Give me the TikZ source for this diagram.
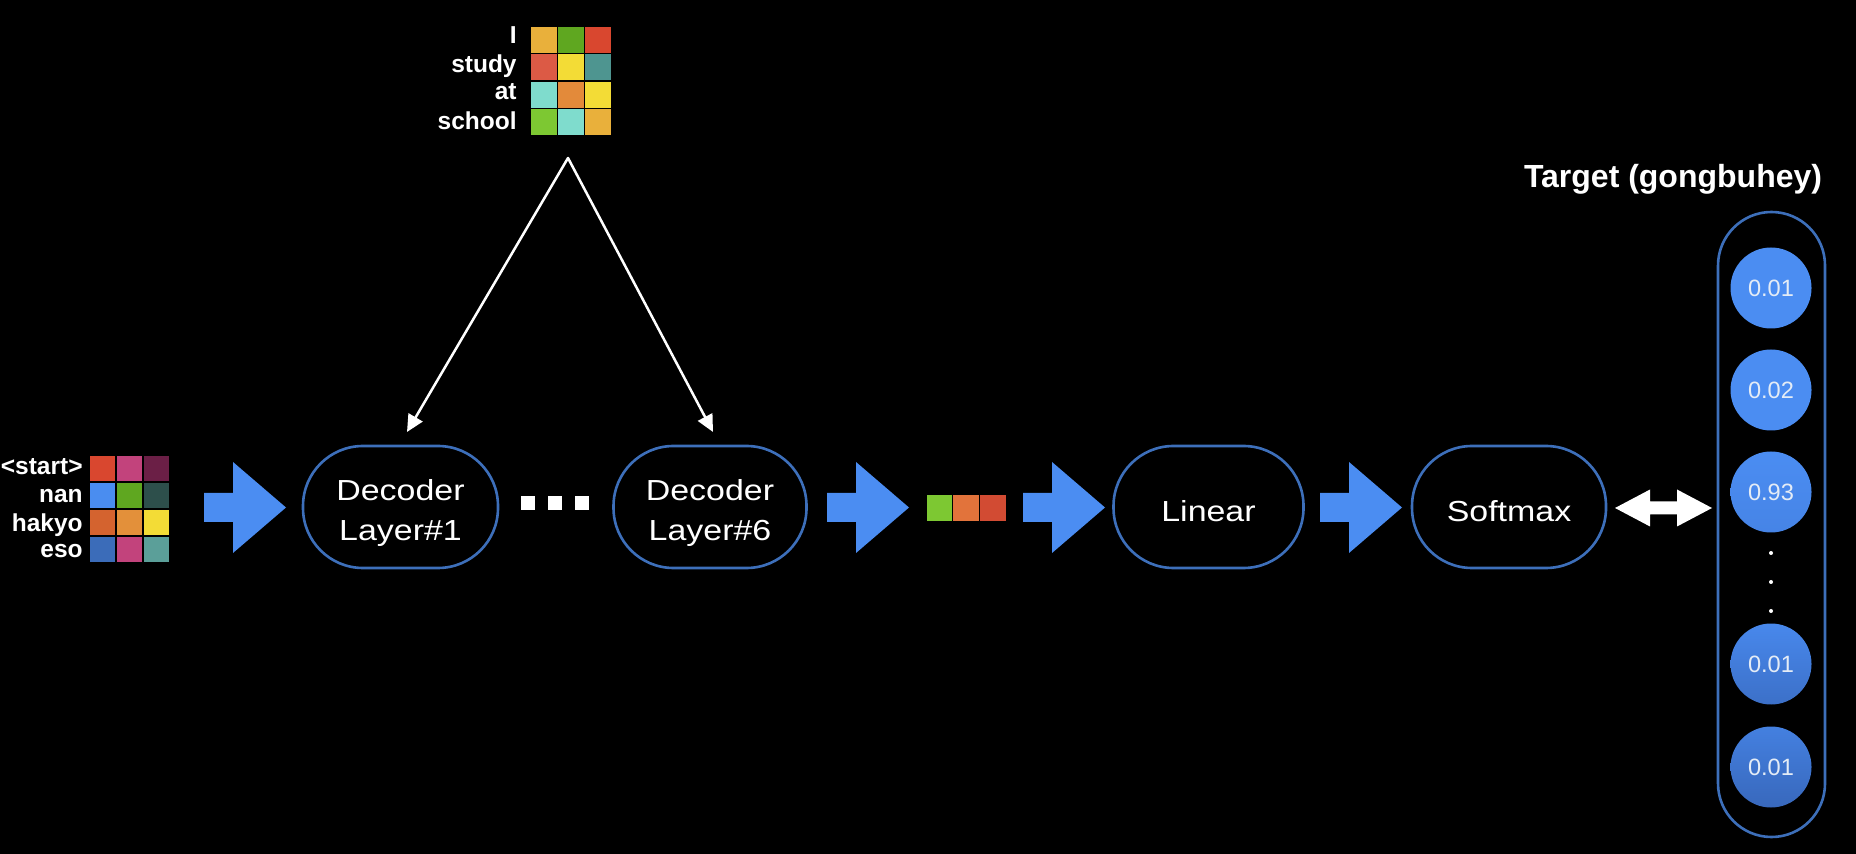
\documentclass[tikz,border=0pt]{standalone}
\usepackage{fontspec}
\setmainfont{Liberation Sans}
\newfontfamily\stretchfont{Liberation Sans}[FakeStretch=1.17]
\usetikzlibrary{arrows.meta,calc}
\definecolor{bluefill}{HTML}{4B8DF2}
\definecolor{outline}{HTML}{3D6FBA}
\definecolor{probtext}{HTML}{E4ECF6}
% cell colours
\definecolor{oy}{HTML}{E9B03B}
\definecolor{gr}{HTML}{5FA720}
\definecolor{rd}{HTML}{D9472F}
\definecolor{ro}{HTML}{DC5A45}
\definecolor{ye}{HTML}{F3DC36}
\definecolor{te}{HTML}{4E9590}
\definecolor{aq}{HTML}{7FDCCD}
\definecolor{orr}{HTML}{E38A3A}
\definecolor{lg}{HTML}{7DC832}
\definecolor{pk}{HTML}{C2437C}
\definecolor{mr}{HTML}{6B1F46}
\definecolor{bl}{HTML}{4A8DF0}
\definecolor{dt}{HTML}{2D4F4B}
\definecolor{ort}{HTML}{D4632F}
\definecolor{orh}{HTML}{E3903A}
\definecolor{db}{HTML}{3B6CB9}
\definecolor{tl}{HTML}{5B9F99}
\definecolor{om}{HTML}{E2733B}
\definecolor{rdd}{HTML}{D24B33}
\begin{document}
\begin{tikzpicture}[x=0.5pt,y=-0.5pt,
  stage/.style={draw=outline, line width=1.3pt, rounded corners=30pt,
    minimum height=61pt, inner sep=0pt},
  stagetext/.style={text=white, align=center, inner sep=0pt,
    font=\stretchfont\fontsize{14.5}{20}\selectfont},
  lbl/.style={text=white, font=\bfseries\fontsize{12.25}{14}\selectfont,
    anchor=base east, inner sep=0pt},
  prob/.style={circle, minimum size=40.5pt, inner sep=0pt, text=probtext,
    font=\fontsize{11.8}{14}\selectfont},
  cellbox/.style={draw=black, line width=0.6pt},
  fatarrow/.pic={\fill[bluefill] (0,-14.5) -- (29,-14.5) -- (29,-45.5) -- (82,0)
     -- (29,45.5) -- (29,14.5) -- (0,14.5) -- cycle;},
  thinarrow/.style={draw=white, line width=1.25pt, line join=round,
     {Triangle[length=8.5pt,width=8pt]}-{Triangle[length=8.5pt,width=8pt]}}
]
\fill[black] (0,0) rectangle (1856,854);
\useasboundingbox (0,0) rectangle (1856,854);

% ---------- top matrix (encoder output) ----------
\foreach \col/\row/\c in {0/0/oy,1/0/gr,2/0/rd,
                          0/1/ro,1/1/ye,2/1/te,
                          0/2/aq,1/2/orr,2/2/ye,
                          0/3/lg,1/3/aq,2/3/oy}
  \filldraw[cellbox, fill=\c] ({530+27.3*\col},{26+27.5*\row}) rectangle +(27.3,27.5);
\node[lbl] (wI) at (517,44) {I};
\node[lbl] (wstudy) at (517,73) {study};
\node[lbl] (wat) at (517,100) {at};
\node[lbl] (wschool) at (517,130) {school};

% ---------- left matrix (decoder input) ----------
\foreach \col/\row/\c in {0/0/rd,1/0/pk,2/0/mr,
                          0/1/bl,1/1/gr,2/1/dt,
                          0/2/ort,1/2/orh,2/2/ye,
                          0/3/db,1/3/pk,2/3/tl}
  \filldraw[cellbox, fill=\c] ({89+27*\col},{455+27*\row}) rectangle +(27,27);
\node[lbl] (wstart) at (83,475) {<start>};
\node[lbl] (wnan) at (83,503) {nan};
\node[lbl] (whakyo) at (83,532) {hakyo};
\node[lbl] (weso) at (83,558) {eso};

% ---------- decoder layers ----------
\node[stage, minimum width=97.5pt] (dec1) at (400.5,507) {};
\node[stagetext] (dec1txt) at ($(dec1.center)+(0,6)$) {Decoder\\Layer\#1};
\node[stage, minimum width=96.5pt] (dec6) at (710,507) {};
\node[stagetext] (dec6txt) at ($(dec6.center)+(0,6)$) {Decoder\\Layer\#6};
\foreach \x in {521,548,575}
  \fill[white] (\x,496) rectangle +(14,14);

% ---------- output vector ----------
\foreach \col/\c in {0/lg,1/om,2/rdd}
  \filldraw[cellbox, fill=\c] ({926+26.7*\col},494) rectangle +(26.7,28);

% ---------- linear / softmax ----------
\node[stage, minimum width=95pt] (lin) at (1208.5,507) {};
\node[stagetext] (lintxt) at ($(lin.center)+(0,4)$) {Linear};
\node[stage, minimum width=97pt] (soft) at (1509,507) {};
\node[stagetext] (softtxt) at ($(soft.center)+(0,4)$) {Softmax};

% ---------- fat arrows ----------
\pic at (204,507.5) {fatarrow};
\pic at (827,507.5) {fatarrow};
\pic at (1023,507.5) {fatarrow};
\pic at (1320,507.5) {fatarrow};

% ---------- attention arrows from encoder output ----------
\coordinate (apex) at (568,158);
\coordinate (t1) at (407,432);
\coordinate (t2) at (713,432);
\draw[thinarrow] (t1) -- (apex) -- (t2);

% ---------- target column ----------
\node[text=white, font=\bfseries\fontsize{16}{18}\selectfont] (tlabel) at (1673,179) {Target (gongbuhey)};
\node[draw=outline, line width=1.3pt, rounded corners=26.75pt,
      minimum width=53.5pt, minimum height=312.5pt] (target) at (1771.5,524.5) {};
\node[prob, fill=bluefill] (p1) at (1771,288) {0.01};
\node[prob, fill=bluefill] (p2) at (1771,390) {0.02};
\node[prob, top color=bluefill, bottom color={rgb,255:red,70;green,132;blue,230}] (p3) at (1771,492) {0.93};
\node[prob, top color={rgb,255:red,72;green,136;blue,236}, bottom color={rgb,255:red,60;green,112;blue,200}] (p4) at (1771,664) {0.01};
\node[prob, top color={rgb,255:red,68;green,128;blue,224}, bottom color={rgb,255:red,56;green,104;blue,188}] (p5) at (1771,767) {0.01};
\foreach \y in {553,582,611}
  \fill[white] (1771,\y) circle (1pt);

% ---------- double arrow softmax <-> target ----------
\fill[white] (1615,508) -- (1650,489.5) -- (1650,501.5) -- (1677,501.5) -- (1677,489.5)
  -- (1712,508) -- (1677,526.5) -- (1677,514.5) -- (1650,514.5) -- (1650,526.5) -- cycle;
\end{tikzpicture}
\end{document}
